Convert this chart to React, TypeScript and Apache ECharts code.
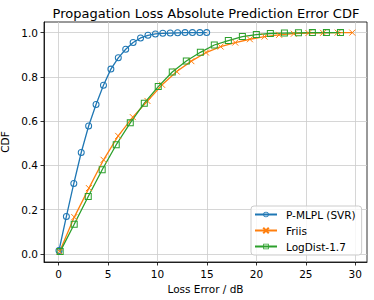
import React, { useEffect, useRef } from "react";
import * as echarts from "echarts";

const titleText = "Propagation Loss Absolute Prediction Error CDF";
const xTicks = [0, 5, 10, 15, 20, 25, 30];
const yTicks = [0, 0.2, 0.4, 0.6, 0.8, 1.0];

const svrX = [0.03, 0.78, 1.53, 2.28, 3.03, 3.78, 4.53, 5.28, 6.03, 6.78, 7.53, 8.28, 9.03, 9.78, 10.53, 11.28, 12.03, 12.78, 13.53, 14.28, 14.97];
const svrY = [0.015, 0.169, 0.318, 0.458, 0.578, 0.675, 0.762, 0.835, 0.886, 0.925, 0.955, 0.976, 0.988, 0.994, 0.997, 0.998, 0.999, 1.0, 1.0, 1.0, 1.0];

const friisX = [0.1, 1.58, 3.06, 4.54, 6.02, 7.5, 8.98, 10.46, 11.94, 13.42, 14.9, 16.38, 17.86, 19.34, 20.82, 22.3, 23.78, 25.26, 26.74, 28.22, 29.7];
const friisY = [0.01, 0.166, 0.297, 0.425, 0.533, 0.618, 0.691, 0.764, 0.824, 0.871, 0.91, 0.937, 0.955, 0.97, 0.982, 0.99, 0.995, 0.998, 0.999, 1.0, 1.0];

const logDistX = [0.15, 1.57, 2.99, 4.4, 5.82, 7.24, 8.66, 10.07, 11.49, 12.91, 14.33, 15.74, 17.16, 18.58, 19.99, 21.41, 22.83, 24.25, 25.66, 27.08, 28.5];
const logDistY = [0.01, 0.134, 0.259, 0.38, 0.493, 0.592, 0.681, 0.756, 0.822, 0.872, 0.911, 0.944, 0.964, 0.982, 0.991, 0.996, 0.998, 0.999, 1.0, 1.0, 1.0];

const seriesNames = ["P-MLPL (SVR)", "Friis", "LogDist-1.7"];
const colors = ["#1f77b4", "#ff7f0e", "#2ca02c"];

const zip = (xs: number[], ys: number[]) => xs.map((x, i) => [x, ys[i]]);

const FONT = "DejaVu Sans";
const FS = 10.5;

// hollow ring symbols (outer clockwise, inner counter-clockwise => hole)
const RING =
  "path://M10,0A10,10,0,1,1,10,20A10,10,0,1,1,10,0ZM10,2.9A7.1,7.1,0,1,0,10,17.1A7.1,7.1,0,1,0,10,2.9Z";
const SQUARE_RING = "path://M0,0L20,0L20,20L0,20ZM2.9,2.9L2.9,17.1L17.1,17.1L17.1,2.9Z";
const CROSS = "path://M0,0L10,10M10,0L0,10";

export default function App() {
  const ref = useRef<HTMLDivElement>(null);
  useEffect(() => {
    if (!ref.current) return;
    const chart = echarts.init(ref.current, undefined, { renderer: "svg" });
    const mk = (name: string, xs: number[], ys: number[], color: string, symbol: string, size: number, stroke: boolean) => ({
      name,
      type: "line",
      data: zip(xs, ys),
      symbol,
      symbolSize: size,
      showSymbol: true,
      lineStyle: { color, width: 1.3 },
      itemStyle: stroke
        ? { color, borderColor: color, borderWidth: 1 }
        : { color, borderWidth: 0 },
      emphasis: { disabled: true },
    });
    chart.setOption({
      animation: false,
      textStyle: { fontFamily: FONT },
      graphic: [
        {
          type: "text",
          x: 206,
          y: 13,
          style: {
            text: titleText,
            font: `13px ${FONT}`,
            fill: "#000",
            textAlign: "center",
            textVerticalAlign: "middle",
          },
        },
      ],
      grid: {
        left: 44,
        right: 7,
        top: 22,
        bottom: 38,
        outerBoundsMode: "none",
        containLabel: false,
        show: true,
        borderColor: "#000",
        borderWidth: 0.8,
        backgroundColor: "transparent",
      },
      xAxis: {
        type: "value",
        min: -1.485,
        max: 31.185,
        name: "Loss Error / dB",
        nameLocation: "middle",
        nameGap: 19,
        nameTextStyle: { fontSize: FS, color: "#000", fontFamily: FONT },
        axisLine: { show: true, onZero: false, lineStyle: { color: "#000", width: 0.8 } },
        axisTick: { show: true, customValues: xTicks, length: 3.5, lineStyle: { color: "#000", width: 0.8 } },
        axisLabel: {
          customValues: xTicks,
          color: "#000",
          fontSize: FS,
          margin: 6,
          fontFamily: FONT,
          formatter: (v: number) => String(v),
        },
        splitLine: { show: true, lineStyle: { color: "#cccccc", width: 0.8 } },
      },
      yAxis: {
        type: "value",
        min: -0.037,
        max: 1.048,
        name: "CDF",
        nameLocation: "middle",
        nameGap: 27,
        nameTextStyle: { fontSize: FS, color: "#000", fontFamily: FONT },
        axisLine: { show: true, onZero: false, lineStyle: { color: "#000", width: 0.8 } },
        axisTick: { show: true, customValues: yTicks, length: 3.5, lineStyle: { color: "#000", width: 0.8 } },
        axisLabel: {
          customValues: yTicks,
          color: "#000",
          fontSize: FS,
          margin: 6,
          fontFamily: FONT,
          formatter: (v: number) => v.toFixed(1),
        },
        splitLine: { show: true, lineStyle: { color: "#cccccc", width: 0.8 } },
      },
      legend: {
        data: seriesNames,
        orient: "vertical",
        left: 251,
        top: 206,
        itemWidth: 22,
        itemHeight: 7,
        itemGap: 5,
        padding: [3, 6, 3, 3],
        backgroundColor: "rgba(255,255,255,0.8)",
        borderColor: "#cccccc",
        borderWidth: 1,
        borderRadius: 3,
        textStyle: { fontSize: FS, color: "#000", fontFamily: FONT, padding: [0, 0, 0, 4] },
      },
      series: [
        mk(seriesNames[0], svrX, svrY, colors[0], RING, 7, false),
        mk(seriesNames[1], friisX, friisY, colors[1], CROSS, 6, true),
        mk(seriesNames[2], logDistX, logDistY, colors[2], SQUARE_RING, 7, false),
      ],
    });
    return () => chart.dispose();
  }, []);
  return (
    <div
      ref={ref}
      style={{ position: "fixed", left: 0, top: 0, width: 374, height: 300, background: "#fff" }}
    />
  );
}
